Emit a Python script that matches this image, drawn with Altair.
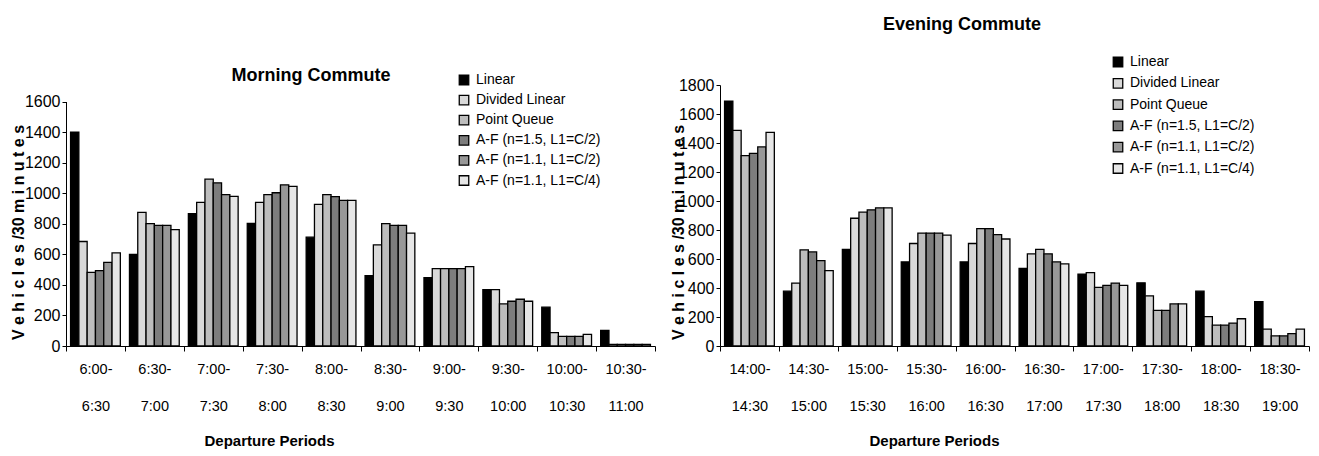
import altair as alt
import pandas as pd

# Queue models compared in each departure period
MODELS = [
    "Linear",
    "Divided Linear",
    "Point Queue",
    "A-F (n=1.5, L1=C/2)",
    "A-F (n=1.1, L1=C/2)",
    "A-F (n=1.1, L1=C/4)",
]
FILLS = ["#000000", "#d9d9d9", "#bdbdbd", "#7d7d7d", "#989898", "#e6e6e6"]

# Departure periods (the space marks the line break in the axis label)
AM_PERIODS = ["6:00- 6:30", "6:30- 7:00", "7:00- 7:30", "7:30- 8:00", "8:00- 8:30",
              "8:30- 9:00", "9:00- 9:30", "9:30- 10:00", "10:00- 10:30", "10:30- 11:00"]
PM_PERIODS = ["14:00- 14:30", "14:30- 15:00", "15:00- 15:30", "15:30- 16:00", "16:00- 16:30",
              "16:30- 17:00", "17:00- 17:30", "17:30- 18:00", "18:00- 18:30", "18:30- 19:00"]

# Vehicles per 30 minutes, morning commute
AM_LINEAR = [1400, 599, 866, 803, 712, 460, 447, 369, 254, 102]
AM_DIVIDED = [684, 875, 940, 940, 927, 662, 506, 369, 87, 10]
AM_POINT_QUEUE = [482, 801, 1092, 990, 990, 801, 506, 276, 63, 10]
AM_AF_15_C2 = [493, 790, 1068, 1003, 977, 790, 506, 293, 63, 10]
AM_AF_11_C2 = [547, 790, 990, 1055, 953, 790, 506, 306, 63, 10]
AM_AF_11_C4 = [610, 762, 979, 1044, 953, 738, 519, 293, 76, 10]

# Vehicles per 30 minutes, evening commute
PM_LINEAR = [1689, 378, 666, 580, 580, 536, 496, 436, 378, 306]
PM_DIVIDED = [1487, 434, 881, 707, 707, 636, 506, 346, 202, 116]
PM_POINT_QUEUE = [1313, 663, 923, 779, 810, 666, 404, 246, 144, 70]
PM_AF_15_C2 = [1329, 649, 939, 779, 810, 636, 418, 246, 144, 70]
PM_AF_11_C2 = [1373, 589, 953, 779, 768, 580, 434, 290, 158, 86]
PM_AF_11_C4 = [1473, 520, 953, 765, 738, 566, 418, 290, 188, 116]

AM_TITLE = "Morning Commute"
PM_TITLE = "Evening Commute"
Y_TITLE = "V e h i c l e s  /30  m i n u t e s"
X_TITLE = "Departure Periods"

FONT = "Liberation Sans, Arial"


def long_table(periods, series):
    rows = []
    for model, values in zip(MODELS, series):
        for period, v in zip(periods, values):
            rows.append({"period": period, "model": model, "vehicles": v})
    return pd.DataFrame(rows)


def panel(df, periods, title, ymax, yrange, title_pos, legend_y, row_pad, ytitle_x, xtitle_x):
    bars = alt.Chart(df).mark_bar(stroke="black", strokeWidth=1.3).encode(
        x=alt.X(
            "period:N",
            sort=periods,
            scale=alt.Scale(paddingInner=0, paddingOuter=0),
            axis=alt.Axis(
                title=X_TITLE,
                titleFont=FONT,
                titleFontSize=15,
                titleFontWeight="bold",
                titleColor="black",
                titleX=xtitle_x,
                titleY=87,
                titleAnchor="start",
                titleAlign="center",
                titleBaseline="top",
                labelAngle=0,
                labelExpr="split(datum.label, ' ')",
                labelLineHeight=37,
                labelFont=FONT,
                labelFontSize=14.5,
                labelColor="black",
                labelPadding=11,
                tickBand="extent",
                tickSize=5,
                tickColor="black",
                domainColor="black",
            ),
        ),
        xOffset=alt.XOffset(
            "model:N", sort=MODELS, scale=alt.Scale(paddingInner=0, paddingOuter=0.55)
        ),
        y=alt.Y(
            "vehicles:Q",
            scale=alt.Scale(domain=[0, ymax], range=yrange, nice=False, zero=True),
            axis=alt.Axis(
                title=Y_TITLE,
                titleFont=FONT,
                titleFontSize=16,
                titleFontWeight="bold",
                titleColor="black",
                titleAngle=270,
                titleAlign="center",
                titleBaseline="bottom",
                titleX=ytitle_x,
                titleY=147,
                values=list(range(0, ymax + 1, 200)),
                format="d",
                labelFont=FONT,
                labelFontSize=16,
                labelColor="black",
                labelPadding=2,
                tickSize=4,
                tickColor="black",
                domainColor="black",
                grid=False,
            ),
        ),
        fill=alt.Fill(
            "model:N",
            sort=MODELS,
            scale=alt.Scale(domain=MODELS, range=FILLS),
            legend=alt.Legend(
                title=None,
                orient="none",
                legendX=391,
                legendY=legend_y,
                symbolType="square",
                symbolSize=90,
                symbolStrokeColor="black",
                symbolStrokeWidth=1.3,
                symbolOpacity=1,
                labelFont=FONT,
                labelFontSize=14,
                labelColor="black",
                labelOffset=5,
                rowPadding=row_pad,
            ),
        ),
    )
    heading = alt.Chart(pd.DataFrame({"t": [title]})).mark_text(
        font=FONT, fontSize=18, fontWeight="bold", color="black", align="center", baseline="middle"
    ).encode(text="t:N", x=alt.value(title_pos[0]), y=alt.value(title_pos[1]))
    return alt.layer(bars, heading).properties(width=589, height=261)


am = long_table(AM_PERIODS, [AM_LINEAR, AM_DIVIDED, AM_POINT_QUEUE, AM_AF_15_C2, AM_AF_11_C2, AM_AF_11_C4])
pm = long_table(PM_PERIODS, [PM_LINEAR, PM_DIVIDED, PM_POINT_QUEUE, PM_AF_15_C2, PM_AF_11_C2, PM_AF_11_C4])

left = panel(am, AM_PERIODS, AM_TITLE, 1600, [261, 16.5], (245, -9), -12, 4.1, -40, 203)
right = panel(pm, PM_PERIODS, PM_TITLE, 1800, [261, 0], (242, -60), -30, 5.3, -34, 214)

chart = alt.hconcat(left, right, spacing=13).properties(
    padding={"left": 10, "top": 16, "right": 5, "bottom": 5},
    background="white",
).configure_view(stroke=None).resolve_scale(fill="independent", x="independent", y="independent")

chart.save("out.html", embed_options={"renderer": "svg", "actions": False})
